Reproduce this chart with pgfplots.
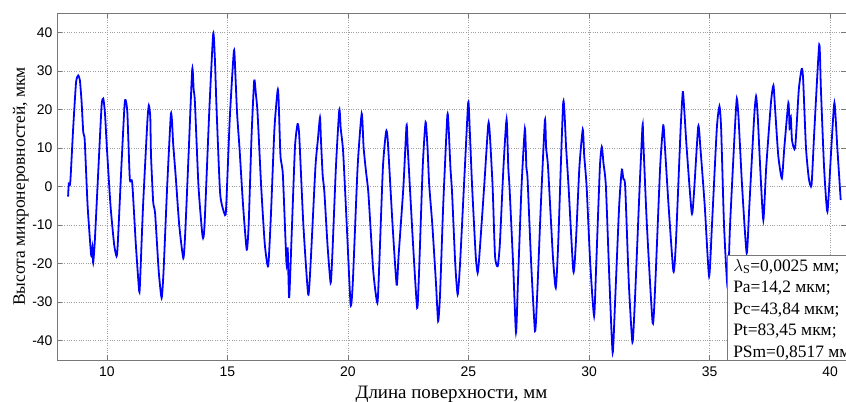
\documentclass[border=0pt]{standalone}
\usepackage{fontspec}
\setmainfont{Liberation Serif}
\newfontfamily\ticksf{Liberation Sans}
\usepackage{pgfplots}
\pgfplotsset{compat=1.18}
\definecolor{profblue}{RGB}{0,0,255}
\definecolor{boxgray}{RGB}{120,120,120}

\pgfplotstableread{
x y
8.39 -2.6
8.42 0.8
8.48 1.0
8.60 15
8.72 27
8.81 28.8
8.88 27.5
8.95 22
9.02 14
9.08 12
9.20 -5
9.35 -18
9.40 -16
9.43 -19.8
9.50 -14
9.65 5
9.78 21
9.85 22.8
9.92 19
10.00 10
10.15 -5
10.30 -15
10.40 -18.1
10.45 -15
10.60 5
10.73 21
10.78 22.4
10.85 19
10.95 2
11.05 1
11.20 -15
11.34 -27.2
11.38 -24
11.50 -5
11.68 17
11.74 21
11.80 18
11.83 8
11.92 -4
12.00 -7
12.15 -22
12.27 -28.9
12.35 -22
12.50 0
12.65 18.5
12.70 17
12.75 11
12.85 3
13.00 -10
13.17 -18.6
13.25 -12
13.40 10
13.54 30.5
13.60 25
13.65 22
13.80 0
13.97 -13
14.05 -10
14.25 20
14.41 39.6
14.48 33
14.55 20
14.70 -2
14.90 -7.4
14.95 -5
15.10 18
15.27 35.3
15.33 29
15.40 19
15.50 10
15.65 -5
15.80 -16.4
15.88 -10
16.00 13
16.11 27.5
16.18 24
16.25 19
16.40 0
16.55 -15
16.69 -20.7
16.80 -8
16.95 15
17.08 24.9
17.12 23
17.20 8
17.30 3
17.45 -20
17.50 -16
17.56 -28.9
17.65 -15
17.80 10
17.91 16.2
17.98 13
18.15 -10
18.35 -28
18.45 -20
18.65 5
18.75 12
18.84 17.9
18.88 12
18.95 3
19.02 -1.3
19.15 -15
19.28 -25
19.35 -18
19.50 5
19.64 19.9
19.70 15
19.80 9
19.95 -10
20.11 -30.6
20.20 -25
20.40 5
20.57 18.9
20.65 10
20.75 3.8
20.85 -2
21.05 -22
21.22 -30.2
21.30 -20
21.45 5
21.58 14.2
21.65 12
21.85 -10
22.02 -25.5
22.10 -18
22.30 0
22.43 15.9
22.48 10
22.55 2
22.70 -15
22.87 -31.5
22.95 -22
23.10 5
23.22 16.7
23.30 10
23.37 0.4
23.50 -10
23.65 -25
23.74 -34.9
23.82 -28
23.95 -5
24.12 18.2
24.17 16
24.25 5
24.32 -1.8
24.45 -20
24.55 -28
24.65 -20
24.85 5
24.99 21.9
25.05 15
25.15 0
25.30 -18
25.38 -22.4
25.45 -18
25.65 0
25.82 16.2
25.88 14
26.00 0
26.10 -18
26.21 -20.7
26.30 -15
26.45 5
26.58 17.4
26.65 5
26.70 0
26.85 -20
26.97 -37.9
27.05 -25
27.20 0
27.34 15
27.40 5
27.45 2
27.60 -20
27.76 -37.5
27.85 -28
28.00 -5
28.17 17.2
28.22 10
28.30 5
28.50 -18
28.62 -26.3
28.72 -15
28.93 21.9
29.05 10
29.15 0
29.35 -22
29.45 -15
29.60 5
29.74 14.8
29.80 8
29.90 0
30.05 -20
30.21 -33.6
30.30 -20
30.45 5
30.53 10.3
30.60 6
30.70 0
30.85 -25
30.98 -43.1
31.08 -30
31.25 -5
31.36 4.4
31.42 2
31.50 0
31.65 -25
31.80 -40.4
31.90 -30
32.10 0
32.22 15.9
32.25 12
32.40 -10
32.64 -35.4
32.75 -25
32.95 5
33.08 15.9
33.15 10
33.30 -5
33.50 -22
33.60 -15
33.80 15
33.89 24.5
33.95 20
34.05 10
34.26 -6.9
34.35 -2
34.53 15.6
34.62 10
34.80 -5
34.98 -23.3
35.10 -10
35.30 15
35.41 20.8
35.48 15
35.60 -10
35.75 -26.3
35.85 -10
36.05 15
36.13 22.8
36.20 18
36.35 0
36.54 -17.3
36.65 -5
36.85 18
36.93 23.4
37.00 18
37.10 5
37.23 -8.7
37.35 5
37.55 22
37.65 26.2
37.72 20
37.85 8
38.00 2.1
38.10 10
38.27 21.7
38.32 15
38.37 18
38.42 12
38.55 10
38.70 25
38.82 30.5
38.88 28
39.00 10
39.12 2
39.23 0.4
39.35 15
39.55 36.8
39.62 25
39.75 5
39.89 -6.5
40.05 10
40.18 21.7
40.30 10
40.44 -3.5
}\profile

\begin{document}
\begin{tikzpicture}
\useasboundingbox (-57bp,-42bp) rectangle (789bp,360bp);
\begin{axis}[
    at={(0,0)}, anchor=south west,
    scale only axis,
    width=789bp, height=347bp,
    xmin=7.93, xmax=40.66,
    ymin=-45, ymax=45,
    xtick={10,15,20,25,30,35,40},
    xticklabels={10,15,20,25,30,35,40},
    ytick={-40,-30,-20,-10,0,10,20,30,40},
    yticklabels={-40,-30,-20,-10,0,10,20,30,40},
    tick label style={font=\fontsize{14}{16}\selectfont\ticksf},
    xticklabel style={yshift=-3bp},
    yticklabel style={xshift=-1bp},
    tick align=inside,
    major tick length=5bp,
    tick style={boxgray, line width=0.6pt},
    axis line style={boxgray, line width=0.8pt},
    grid=major,
    grid style={dotted, gray!75, line width=0.6pt},
    xlabel={Длина поверхности, мм},
    ylabel={Высота микронеровностей, мкм},
    xlabel style={font=\fontsize{19}{21}\selectfont, yshift=-3bp},
    ylabel style={font=\fontsize{17.5}{20}\selectfont, yshift=-3bp},
    clip=true,
]
\addplot[profblue, line width=1.8pt, smooth, tension=0.35] table[x=x, y=y] {\profile};
\node[draw=boxgray, fill=white, line width=0.8pt, anchor=north west,
      align=left, inner xsep=6bp, inner ysep=4bp,
      font=\fontsize{17.5}{21.5}\selectfont]
  at (rel axis cs:0.849,0.3026)
  {$\lambda$\textsubscript{S}=0,0025 мм;\\Pa=14,2 мкм;\\Pc=43,84 мкм;\\Pt=83,45 мкм;\\PSm=0,8517 мм};
\end{axis}
\end{tikzpicture}
\end{document}
